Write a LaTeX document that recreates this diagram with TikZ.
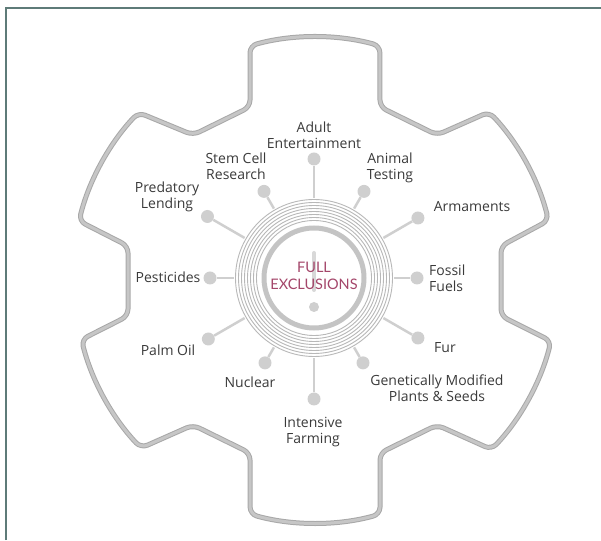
\documentclass[tikz,border=0pt]{standalone}
\usepackage{fontspec}
\setmainfont{Open Sans}
\newfontfamily\centerfont{Lato}
\usetikzlibrary{calc}
\definecolor{framecol}{HTML}{5E7B78}
\definecolor{labelgray}{HTML}{3A3A3A}
\definecolor{spokegray}{HTML}{CFCFCF}
\definecolor{gearedge}{HTML}{A8A8A8}
\definecolor{gearmid}{HTML}{C6C6C6}
\definecolor{ringgray}{HTML}{B8B8B8}
\definecolor{thickring}{HTML}{C4C4C4}
\definecolor{maroon}{HTML}{A4466A}
\begin{document}
\begin{tikzpicture}[x=1pt,y=1pt,
  lbl/.style={font=\fontsize{14}{16}\selectfont, text=labelgray, align=center, inner sep=0pt},
  dotnode/.style={circle, fill=spokegray, minimum size=13pt, inner sep=0pt},
  spoke/.style={draw=spokegray, line width=2.5pt},
  gearpath/.style={rounded corners=7pt, line join=round},
  thinring/.style={draw=ringgray, line width=0.9pt},
  centertext/.style={font=\centerfont\fontsize{14.5}{17}\selectfont, text=maroon, align=center, inner sep=0pt}]
\useasboundingbox (0,0) rectangle (601,540);
% frame
\draw[framecol, line width=2pt] (6,0) -- (6,532) -- (601,532);
% gear outline
\foreach \w/\c in {5/gearedge, 3/gearmid}{
\draw[gearpath, line width=\w pt, draw=\c]
  (380,433) -- (437,405) -- (489,428)
  arc[start angle=43.5,end angle=14,radius=243pt]
  -- (501,294) -- (501,224) -- (551,199)
  arc[start angle=-14,end angle=-43.5,radius=243pt]
  -- (437,115) -- (380,87) -- (380,25.8)
  arc[start angle=-74.5,end angle=-105.5,radius=243pt]
  -- (250,87) -- (193,115) -- (141,92)
  arc[start angle=-136.5,end angle=-166,radius=243pt]
  -- (128,224) -- (128,294) -- (79,319)
  arc[start angle=166,end angle=136.5,radius=243pt]
  -- (193,405) -- (250,433) -- (250,494.2)
  arc[start angle=105.5,end angle=74.5,radius=243pt] -- cycle;
}
% spokes
\coordinate (O) at (314,262);
\foreach \i/\a/\l in {1/90/119, 2/60/100, 3/30/120, 4/0/103, 5/-30/120, 6/-60/98,
                      7/-90/121, 8/-120/98, 9/-150/122, 10/180/104, 11/150/123, 12/120/100}{
  \node[dotnode] (d\i) at ($(O)+(\a:\l)$) {};
  \draw[spoke] (O) -- (d\i);
}
% rings
\fill[white] (O) circle[radius=80pt];
\foreach \r in {57.5,60.5,63.5,66.5,69.5,72.5,75.5,78.5}{
  \draw[thinring] (O) circle[radius=\r pt];
}
\draw[thickring, line width=5pt] (O) circle[radius=50pt];
% exclamation-like symbol
\coordinate (barTop) at (314,287);
\coordinate (barBot) at (314,250);
\draw[spokegray!80, line width=4pt, line cap=round] (barTop) -- (barBot);
\node[dotnode, minimum size=10pt] (cdot) at (314,233) {};
\node[centertext] (ctext) at (314,264) {FULL\\EXCLUSIONS};
% labels
\node[lbl] (adult) at (314,405) {Adult\\Entertainment};
\node[lbl] (stem) at (236,374) {Stem Cell\\Research};
\node[lbl] (pred) at (167,343) {Predatory\\Lending};
\node[lbl] (animal) at (390,372) {Animal\\Testing};
\node[lbl] (arm) at (472,333) {Armaments};
\node[lbl, anchor=west, align=left] (fossil) at (429,262) {Fossil\\Fuels};
\node[lbl] (fur) at (445,192) {Fur};
\node[lbl] (gm) at (437,152) {Genetically Modified\\Plants \& Seeds};
\node[lbl] (intf) at (313,108) {Intensive\\Farming};
\node[lbl] (nuc) at (250,158) {Nuclear};
\node[lbl] (palm) at (168,190) {Palm Oil};
\node[lbl] (pest) at (168,263) {Pesticides};
\end{tikzpicture}
\end{document}
